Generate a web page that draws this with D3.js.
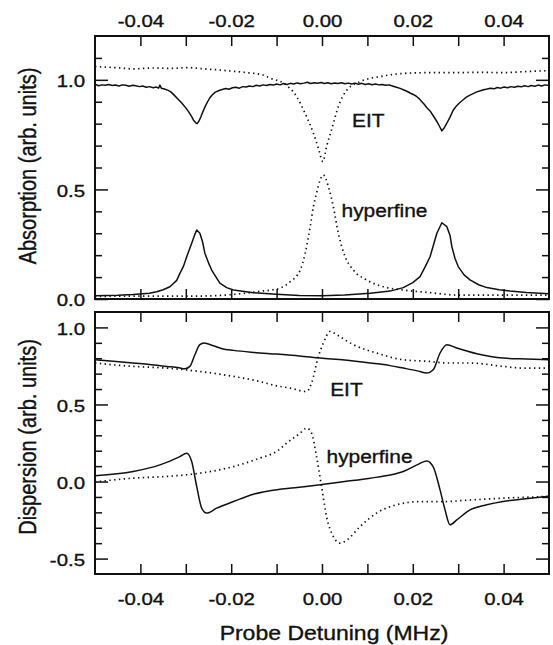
<!DOCTYPE html>
<html>
<head>
<meta charset="utf-8">
<script src="https://cdn.jsdelivr.net/npm/d3@7"></script>
<style>
  body { margin: 0; background: #fff; }
  svg { display: block; font-family: 'Liberation Sans', Arial, Helvetica, sans-serif; }
</style>
</head>
<body>
<div id="chart"></div>
<script>
// x axis (probe detuning, MHz)
const xTicks = [-0.04, -0.03, -0.02, -0.01, 0, 0.01, 0.02, 0.03, 0.04];
const xTickLabels = [-0.04, -0.02, 0, 0.02, 0.04];

// absorption panel ticks
const absMajorTicks = [0, 0.5, 1.0];
const absMinorTicks = [0.1, 0.2, 0.3, 0.4, 0.6, 0.7, 0.8, 0.9, 1.1];
// dispersion panel ticks
const dispMajorTicks = [-0.5, 0, 0.5, 1.0];
const dispMinorTicks = [-0.4, -0.3, -0.2, -0.1, 0.1, 0.2, 0.3, 0.4, 0.6, 0.7, 0.8, 0.9];

// absorption, EIT (solid, upper) - noisy trace
const absEitSolid = [
  [-0.0500, 0.980], [-0.0492, 0.973], [-0.0485, 0.977], [-0.0477, 0.975], [-0.0470, 0.979],
  [-0.0462, 0.974], [-0.0455, 0.976], [-0.0447, 0.972], [-0.0440, 0.977], [-0.0432, 0.975],
  [-0.0425, 0.971], [-0.0417, 0.975], [-0.0410, 0.973], [-0.0402, 0.969], [-0.0395, 0.972],
  [-0.0387, 0.966], [-0.0380, 0.969], [-0.0372, 0.964], [-0.0365, 0.967], [-0.0360, 0.962],
  [-0.0357, 0.976], [-0.0354, 0.962], [-0.0347, 0.958], [-0.0340, 0.953], [-0.0333, 0.945],
  [-0.0325, 0.929], [-0.0318, 0.914], [-0.0309, 0.894], [-0.0300, 0.872], [-0.0294, 0.855],
  [-0.0287, 0.832], [-0.0283, 0.816], [-0.0278, 0.804], [-0.0275, 0.800], [-0.0271, 0.812],
  [-0.0267, 0.830], [-0.0262, 0.856], [-0.0257, 0.880], [-0.0252, 0.900], [-0.0247, 0.918],
  [-0.0242, 0.931], [-0.0235, 0.944], [-0.0228, 0.950], [-0.0220, 0.956], [-0.0212, 0.960],
  [-0.0205, 0.957], [-0.0197, 0.964], [-0.0190, 0.966], [-0.0182, 0.962], [-0.0175, 0.969],
  [-0.0167, 0.967], [-0.0160, 0.972], [-0.0152, 0.969], [-0.0145, 0.975], [-0.0137, 0.972],
  [-0.0130, 0.977], [-0.0122, 0.974], [-0.0115, 0.979], [-0.0107, 0.976], [-0.0100, 0.981],
  [-0.0092, 0.977], [-0.0085, 0.983], [-0.0077, 0.979], [-0.0070, 0.984], [-0.0062, 0.981],
  [-0.0055, 0.986], [-0.0047, 0.982], [-0.0040, 0.985], [-0.0032, 0.989], [-0.0025, 0.983],
  [-0.0017, 0.987], [-0.0010, 0.984], [-0.0002, 0.988], [0.0005, 0.983], [0.0013, 0.987],
  [0.0020, 0.982], [0.0028, 0.986], [0.0035, 0.983], [0.0043, 0.987], [0.0050, 0.982],
  [0.0058, 0.985], [0.0065, 0.981], [0.0073, 0.985], [0.0080, 0.980], [0.0088, 0.984],
  [0.0095, 0.979], [0.0103, 0.982], [0.0110, 0.978], [0.0118, 0.981], [0.0125, 0.977],
  [0.0133, 0.979], [0.0140, 0.975], [0.0148, 0.977], [0.0155, 0.972], [0.0164, 0.966],
  [0.0172, 0.961], [0.0179, 0.955], [0.0187, 0.948], [0.0194, 0.940], [0.0202, 0.932],
  [0.0209, 0.923], [0.0215, 0.912], [0.0220, 0.900], [0.0226, 0.886], [0.0231, 0.873],
  [0.0238, 0.858], [0.0245, 0.836], [0.0253, 0.810], [0.0259, 0.787], [0.0264, 0.767],
  [0.0269, 0.780], [0.0275, 0.802], [0.0282, 0.830], [0.0289, 0.861], [0.0295, 0.878],
  [0.0302, 0.893], [0.0311, 0.909], [0.0318, 0.921], [0.0326, 0.930], [0.0334, 0.938],
  [0.0341, 0.945], [0.0349, 0.950], [0.0356, 0.955], [0.0364, 0.958], [0.0371, 0.962],
  [0.0379, 0.959], [0.0386, 0.965], [0.0394, 0.962], [0.0401, 0.967], [0.0409, 0.964],
  [0.0416, 0.969], [0.0424, 0.966], [0.0431, 0.971], [0.0439, 0.968], [0.0446, 0.973],
  [0.0454, 0.969], [0.0461, 0.974], [0.0469, 0.971], [0.0476, 0.976], [0.0484, 0.972],
  [0.0491, 0.977], [0.0500, 0.974]
];

// absorption, EIT (dotted, upper)
const absEitDotted = [
  [-0.0500, 1.061], [-0.0450, 1.055], [-0.0416, 1.050], [-0.0370, 1.054], [-0.0330, 1.052],
  [-0.0298, 1.056], [-0.0260, 1.050], [-0.0232, 1.046], [-0.0200, 1.040], [-0.0166, 1.033],
  [-0.0130, 1.022], [-0.0115, 1.008], [-0.0085, 0.985], [-0.0056, 0.924], [-0.0034, 0.832],
  [-0.0019, 0.757], [-0.0008, 0.688], [0.0002, 0.627], [0.0010, 0.695], [0.0021, 0.772],
  [0.0036, 0.878], [0.0055, 0.954], [0.0084, 0.992], [0.0128, 1.015], [0.0194, 1.031],
  [0.0250, 1.033], [0.0289, 1.033], [0.0350, 1.034], [0.0399, 1.033], [0.0450, 1.038],
  [0.0500, 1.042]
];

// absorption, hyperfine (solid, lower)
const absHfSolid = [
  [-0.0500, 0.015], [-0.0450, 0.017], [-0.0416, 0.020], [-0.0380, 0.026], [-0.0364, 0.033],
  [-0.0350, 0.042], [-0.0335, 0.056], [-0.0320, 0.085], [-0.0313, 0.117], [-0.0305, 0.150],
  [-0.0298, 0.193], [-0.0287, 0.254], [-0.0280, 0.295], [-0.0276, 0.315], [-0.0269, 0.300],
  [-0.0263, 0.260], [-0.0258, 0.209], [-0.0250, 0.165], [-0.0243, 0.132], [-0.0232, 0.095],
  [-0.0225, 0.072], [-0.0210, 0.052], [-0.0195, 0.041], [-0.0151, 0.029], [-0.0100, 0.022],
  [-0.0050, 0.016], [0.0000, 0.015], [0.0050, 0.018], [0.0106, 0.026], [0.0150, 0.036],
  [0.0179, 0.052], [0.0200, 0.075], [0.0216, 0.102], [0.0228, 0.150], [0.0238, 0.193],
  [0.0246, 0.250], [0.0253, 0.300], [0.0264, 0.348], [0.0275, 0.330], [0.0282, 0.290],
  [0.0286, 0.239], [0.0293, 0.185], [0.0300, 0.148], [0.0313, 0.110], [0.0326, 0.087],
  [0.0345, 0.065], [0.0363, 0.052], [0.0390, 0.042], [0.0414, 0.036], [0.0450, 0.030],
  [0.0500, 0.024]
];

// absorption, hyperfine (dotted, centre peak)
const absHfDotted = [
  [-0.0500, 0.012], [-0.0400, 0.013], [-0.0300, 0.013], [-0.0250, 0.014], [-0.0200, 0.020],
  [-0.0166, 0.027], [-0.0137, 0.035], [-0.0115, 0.040], [-0.0093, 0.049], [-0.0070, 0.079],
  [-0.0048, 0.132], [-0.0037, 0.209], [-0.0026, 0.330], [-0.0019, 0.421], [-0.0012, 0.483],
  [-0.0004, 0.543], [0.0003, 0.566], [0.0014, 0.513], [0.0025, 0.421], [0.0036, 0.300],
  [0.0051, 0.193], [0.0069, 0.132], [0.0098, 0.087], [0.0135, 0.056], [0.0179, 0.041],
  [0.0238, 0.029], [0.0297, 0.018], [0.0400, 0.018], [0.0500, 0.018]
];

// dispersion, EIT (solid, upper)
const dispEitSolid = [
  [-0.0500, 0.790], [-0.0460, 0.781], [-0.0416, 0.769], [-0.0380, 0.760], [-0.0342, 0.747],
  [-0.0315, 0.738], [-0.0302, 0.732], [-0.0291, 0.747], [-0.0280, 0.823], [-0.0269, 0.888],
  [-0.0260, 0.899], [-0.0239, 0.881], [-0.0220, 0.862], [-0.0195, 0.851], [-0.0151, 0.838],
  [-0.0100, 0.827], [-0.0050, 0.815], [-0.0004, 0.801], [0.0050, 0.788], [0.0106, 0.769],
  [0.0150, 0.752], [0.0179, 0.736], [0.0210, 0.718], [0.0231, 0.704], [0.0245, 0.725],
  [0.0260, 0.834], [0.0275, 0.888], [0.0297, 0.866], [0.0341, 0.829], [0.0399, 0.801],
  [0.0450, 0.795], [0.0500, 0.790]
];

// dispersion, EIT (dotted)
const dispEitDotted = [
  [-0.0500, 0.769], [-0.0416, 0.747], [-0.0342, 0.736], [-0.0269, 0.714], [-0.0195, 0.682],
  [-0.0137, 0.649], [-0.0100, 0.621], [-0.0070, 0.606], [-0.0034, 0.584], [-0.0023, 0.639],
  [-0.0008, 0.812], [0.0003, 0.899], [0.0018, 0.974], [0.0032, 0.953], [0.0069, 0.888],
  [0.0120, 0.834], [0.0179, 0.790], [0.0238, 0.779], [0.0275, 0.769], [0.0326, 0.769],
  [0.0399, 0.747], [0.0443, 0.736], [0.0500, 0.736]
];

// dispersion, hyperfine (solid, lower)
const dispHfSolid = [
  [-0.0500, 0.037], [-0.0416, 0.065], [-0.0357, 0.108], [-0.0313, 0.162], [-0.0298, 0.184],
  [-0.0287, 0.130], [-0.0276, -0.032], [-0.0265, -0.173], [-0.0254, -0.205], [-0.0232, -0.173],
  [-0.0195, -0.130], [-0.0151, -0.082], [-0.0115, -0.060], [-0.0060, -0.040], [-0.0004, -0.021],
  [0.0050, 0.000], [0.0106, 0.022], [0.0150, 0.042], [0.0179, 0.065], [0.0209, 0.108],
  [0.0231, 0.134], [0.0245, 0.095], [0.0260, -0.054], [0.0271, -0.184], [0.0282, -0.281],
  [0.0297, -0.249], [0.0326, -0.184], [0.0363, -0.151], [0.0399, -0.130], [0.0443, -0.114],
  [0.0500, -0.095]
];

// dispersion, hyperfine (dotted)
const dispHfDotted = [
  [-0.0500, -0.003], [-0.0416, 0.022], [-0.0342, 0.033], [-0.0269, 0.054], [-0.0195, 0.097],
  [-0.0137, 0.152], [-0.0100, 0.195], [-0.0078, 0.249], [-0.0048, 0.314], [-0.0034, 0.347],
  [-0.0023, 0.314], [-0.0012, 0.162], [-0.0001, -0.032], [0.0010, -0.227], [0.0025, -0.357],
  [0.0040, -0.400], [0.0055, -0.379], [0.0084, -0.292], [0.0120, -0.205], [0.0164, -0.151],
  [0.0216, -0.130], [0.0267, -0.130], [0.0326, -0.120], [0.0399, -0.108], [0.0500, -0.097]
];

const WIDTH = 553;
const HEIGHT = 645;
const LEFT = 95;
const RIGHT = 549;
const TICK_FONT = 17;
const STRETCH = 1.2; // scanned lettering is wider than it is tall
const INK = '#111';

const x = d3.scaleLinear().domain([-0.05, 0.05]).range([LEFT, RIGHT]);

const svg = d3.select('#chart').append('svg')
  .attr('width', WIDTH)
  .attr('height', HEIGHT);

svg.append('rect').attr('width', WIDTH).attr('height', HEIGHT).attr('fill', '#fff');

// slightly heavier glyphs, like the printed original
function ink(sel) {
  return sel.attr('fill', INK).attr('stroke', INK).attr('stroke-width', 0.35);
}

function styleAxis(g) {
  g.select('.domain').remove();
  g.selectAll('line').attr('stroke', INK).attr('stroke-width', 1.5);
  ink(g.selectAll('text')).style('font-size', `${TICK_FONT}px`);
}

function drawPanel(cfg, idx) {
  const y = d3.scaleLinear().domain(cfg.yDomain).range([cfg.bottom, cfg.top]);
  const g = svg.append('g');

  const clipId = `clip${idx}`;
  svg.append('clipPath').attr('id', clipId)
    .append('rect')
    .attr('x', LEFT).attr('y', cfg.top)
    .attr('width', RIGHT - LEFT).attr('height', cfg.bottom - cfg.top);

  const xFmt = d => (xTickLabels.includes(d) ? d.toFixed(2) : '');

  // x ticks on top and bottom edges, pointing inward
  const topAxis = g.append('g')
    .attr('transform', `translate(0,${cfg.top})`)
    .call(d3.axisTop(x).tickValues(xTicks).tickSize(-10).tickPadding(9)
      .tickFormat(cfg.labelsOnTop ? xFmt : () => ''));
  styleAxis(topAxis);
  topAxis.selectAll('text').attr('transform', `scale(${STRETCH},1)`);

  const bottomAxis = g.append('g')
    .attr('transform', `translate(0,${cfg.bottom})`)
    .call(d3.axisBottom(x).tickValues(xTicks).tickSize(-10).tickPadding(19)
      .tickFormat(cfg.labelsOnTop ? () => '' : xFmt));
  styleAxis(bottomAxis);
  bottomAxis.selectAll('text').attr('transform', `scale(${STRETCH},1)`);

  // y ticks left and right, majors longer
  const leftMinor = g.append('g').attr('transform', `translate(${LEFT},0)`)
    .call(d3.axisLeft(y).tickValues(cfg.minor).tickSize(-7).tickFormat(() => ''));
  styleAxis(leftMinor);
  const leftMajor = g.append('g').attr('transform', `translate(${LEFT},0)`)
    .call(d3.axisLeft(y).tickValues(cfg.major).tickSize(-13).tickPadding(10)
      .tickFormat(d => d.toFixed(1)));
  styleAxis(leftMajor);
  leftMajor.selectAll('text')
    .attr('x', -10 / STRETCH)
    .attr('dy', '0.4em')
    .attr('transform', `scale(${STRETCH},1)`);

  const rightMinor = g.append('g').attr('transform', `translate(${RIGHT},0)`)
    .call(d3.axisRight(y).tickValues(cfg.minor).tickSize(-7).tickFormat(() => ''));
  styleAxis(rightMinor);
  const rightMajor = g.append('g').attr('transform', `translate(${RIGHT},0)`)
    .call(d3.axisRight(y).tickValues(cfg.major).tickSize(-13).tickFormat(() => ''));
  styleAxis(rightMajor);

  // frame
  g.append('rect')
    .attr('x', LEFT).attr('y', cfg.top)
    .attr('width', RIGHT - LEFT).attr('height', cfg.bottom - cfg.top)
    .attr('fill', 'none').attr('stroke', INK).attr('stroke-width', 2);

  const line = d3.line().x(d => x(d[0])).y(d => y(d[1]));
  const smooth = d3.line().x(d => x(d[0])).y(d => y(d[1])).curve(d3.curveMonotoneX);

  const plot = g.append('g').attr('clip-path', `url(#${clipId})`);
  cfg.series.forEach(s => {
    plot.append('path')
      .datum(s.data)
      .attr('fill', 'none')
      .attr('stroke', INK)
      .attr('stroke-width', s.dotted ? 1.7 : 1.5)
      .attr('stroke-dasharray', s.dotted ? '1.4 3.4' : null)
      .attr('stroke-linejoin', 'round')
      .attr('d', s.smooth ? smooth : line);
  });

  // in-plot labels
  cfg.notes.forEach(n => {
    ink(g.append('text'))
      .attr('transform', `translate(${x(n.x)},${y(n.y)}) scale(1.1,1)`)
      .style('font-size', '19px')
      .text(n.text);
  });

  // y title
  ink(g.append('text'))
    .attr('transform', `translate(36,${cfg.titleY}) scale(1.15,1) rotate(-90)`)
    .attr('text-anchor', 'middle')
    .style('font-size', '20px')
    .text(cfg.title);
}

const panels = [
  {
    top: 36, bottom: 299, yDomain: [0, 1.2],
    major: absMajorTicks, minor: absMinorTicks,
    labelsOnTop: true,
    title: 'Absorption (arb. units)', titleY: 166,
    series: [
      { data: absEitDotted, dotted: true, smooth: true },
      { data: absHfDotted, dotted: true, smooth: true },
      { data: absEitSolid, dotted: false, smooth: false },
      { data: absHfSolid, dotted: false, smooth: false }
    ],
    notes: [
      { text: 'EIT', x: 0.0066, y: 0.785 },
      { text: 'hyperfine', x: 0.0043, y: 0.376 }
    ]
  },
  {
    top: 312, bottom: 574, yDomain: [-0.6, 1.1],
    major: dispMajorTicks, minor: dispMinorTicks,
    labelsOnTop: false,
    title: 'Dispersion (arb. units)', titleY: 437,
    series: [
      { data: dispEitDotted, dotted: true, smooth: true },
      { data: dispHfDotted, dotted: true, smooth: true },
      { data: dispEitSolid, dotted: false, smooth: true },
      { data: dispHfSolid, dotted: false, smooth: true }
    ],
    notes: [
      { text: 'EIT', x: 0.0018, y: 0.552 },
      { text: 'hyperfine', x: 0.0010, y: 0.119 }
    ]
  }
];

panels.forEach(drawPanel);

// x title
ink(svg.append('text'))
  .attr('transform', 'translate(334,640) scale(1.15,1)')
  .attr('text-anchor', 'middle')
  .style('font-size', '20px')
  .text('Probe Detuning (MHz)');
</script>
</body>
</html>
